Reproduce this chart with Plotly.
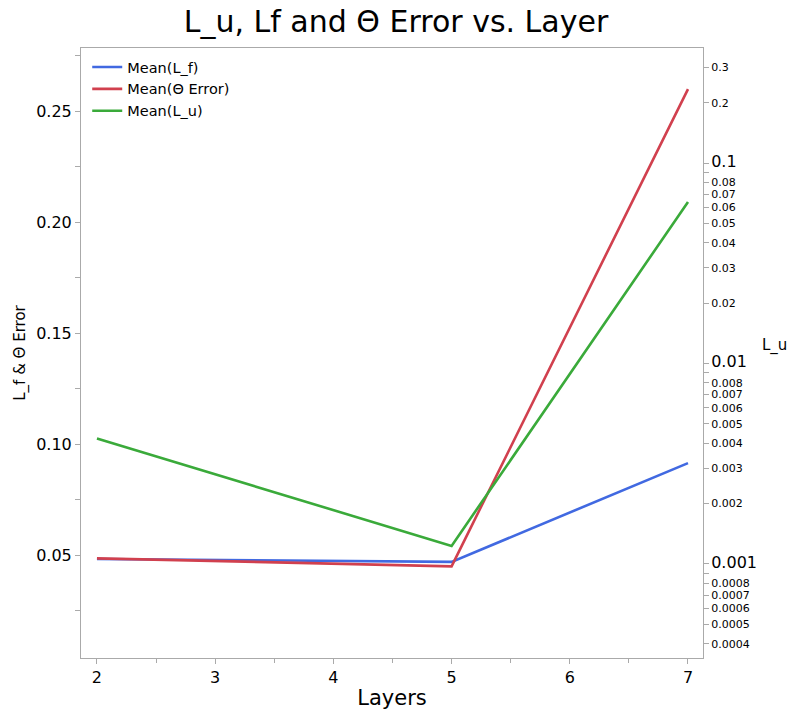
import plotly.graph_objects as go

layers = [2, 5, 7]
mean_lf = [0.0482, 0.0469, 0.0914]
mean_theta = [0.0485, 0.0449, 0.2599]
mean_lu = [0.00423, 0.00123, 0.0639]

right_vals = [0.3, 0.2, 0.1, 0.09, 0.08, 0.07, 0.06, 0.05, 0.04, 0.03, 0.02,
              0.01, 0.009, 0.008, 0.007, 0.006, 0.005, 0.004, 0.003, 0.002,
              0.001, 0.0009, 0.0008, 0.0007, 0.0006, 0.0005, 0.0004]
major_vals = [0.1, 0.01, 0.001]
hidden_vals = [0.09, 0.009, 0.0009]


def fmt(v):
    s = ("%.4f" % v).rstrip("0")
    if v in hidden_vals:
        return ""
    if v in major_vals:
        return '<span style="font-size:16px">%s</span>' % s
    return s


right_text = [fmt(v) for v in right_vals]

font = "DejaVu Sans"
fig = go.Figure()
fig.add_trace(go.Scatter(x=layers, y=mean_lf, mode="lines", name="Mean(L_f)",
                         line=dict(color="#4169E1", width=2.6)))
fig.add_trace(go.Scatter(x=layers, y=mean_theta, mode="lines", name="Mean(Θ Error)",
                         line=dict(color="#D1404E", width=2.6)))
fig.add_trace(go.Scatter(x=layers, y=mean_lu, mode="lines", name="Mean(L_u)",
                         line=dict(color="#3AAA3A", width=2.6), yaxis="y2"))

axis_common = dict(showgrid=False, zeroline=False, showline=True, linecolor="#aaaaaa",
                   linewidth=1, ticks="outside", tickcolor="#aaaaaa", ticklen=5,
                   automargin=False)

fig.update_layout(
    width=792, height=711,
    margin=dict(l=81, r=89, t=48, b=53),
    paper_bgcolor="white", plot_bgcolor="white",
    font=dict(family=font, color="black"),
    title=dict(text="L_u, Lf and Θ Error vs. Layer", x=0.5, xanchor="center",
               y=0.970, yanchor="middle", font=dict(size=30, family=font)),
    xaxis=dict(**axis_common, range=[1.865, 7.127], tickvals=[2, 3, 4, 5, 6, 7],
               tickfont=dict(size=16), mirror=True,
               minor=dict(ticks="outside", tickvals=[2.5, 3.5, 4.5, 5.5, 6.5],
                          ticklen=4, tickcolor="#aaaaaa"),
               title=dict(text="Layers", font=dict(size=21), standoff=4)),
    yaxis=dict(**axis_common, range=[0.0036, 0.2784],
               tickvals=[0.05, 0.10, 0.15, 0.20, 0.25], tickformat=".2f",
               tickfont=dict(size=16),
               minor=dict(ticks="outside", tickvals=[0.025, 0.075, 0.125, 0.175, 0.225, 0.275],
                          ticklen=5, tickcolor="#aaaaaa"),
               title=dict(text="L_f & Θ Error", font=dict(size=15), standoff=6)),
    yaxis2=dict(**axis_common, overlaying="y", side="right", type="log",
                range=[-3.469, -0.4262], tickvals=right_vals, ticktext=right_text,
                tickfont=dict(size=11)),
    legend=dict(x=0.01, y=0.995, xanchor="left", yanchor="top",
                bgcolor="rgba(0,0,0,0)", font=dict(size=14.5),
                tracegroupgap=0, itemwidth=30),
    showlegend=True,
    annotations=[dict(text="L_u", x=1.0, xref="paper", xanchor="left", xshift=57,
                      y=0.5, yref="paper", yshift=8, showarrow=False,
                      font=dict(size=15))],
)

fig.write_html("out.html")
